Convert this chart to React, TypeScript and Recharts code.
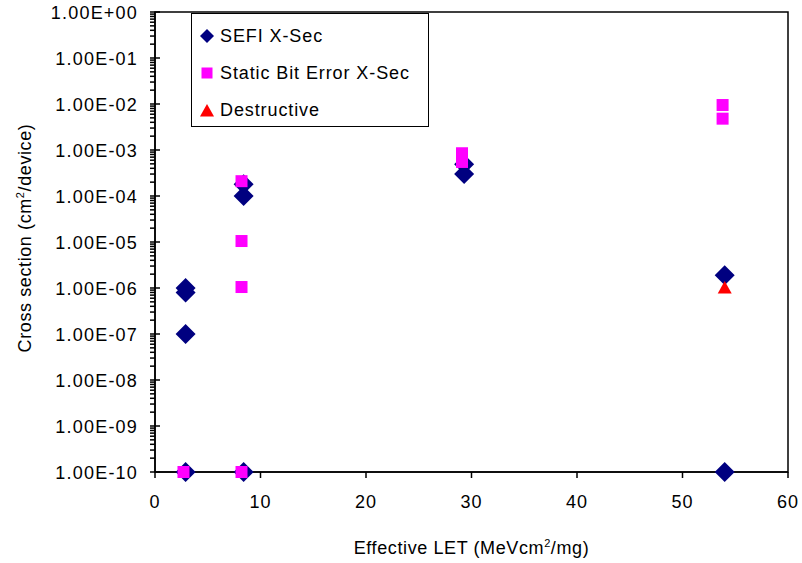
import React from "react";
import {
  ScatterChart,
  Scatter,
  XAxis,
  YAxis,
  ReferenceArea,
} from "recharts";

// values (x = effective LET, y = cross section)
const sefiX = [2.9, 2.9, 2.9, 2.9, 8.4, 8.4, 8.4, 29.3, 29.3, 54.0, 54.0];
const sefiY = [1e-6, 8e-7, 1e-7, 1e-10, 1.8e-4, 1e-4, 1e-10, 4.9e-4, 3e-4, 1.9e-6, 1e-10];

const staticX = [2.7, 8.2, 8.2, 8.2, 8.2, 29.1, 29.1, 53.8, 53.8];
const staticY = [1e-10, 2.1e-4, 1.05e-5, 1.05e-6, 1e-10, 8.5e-4, 5.5e-4, 9.5e-3, 4.8e-3];

const destructiveX = [54.0];
const destructiveY = [1e-6];

const xTicks = [0, 10, 20, 30, 40, 50, 60];
const decades = [-10, -9, -8, -7, -6, -5, -4, -3, -2, -1, 0];
const mantissas = [1, 2, 3, 4, 5, 6, 7, 8, 9];

const seriesNames = ["SEFI X-Sec", "Static Bit Error X-Sec", "Destructive"];
const NAVY = "#000080";
const MAGENTA = "#FF00FF";
const RED = "#FF0000";
const FONT = "'Liberation Sans', Arial, sans-serif";

const toPoints = (xs: number[], ys: number[]) => xs.map((x, i) => ({ x, y: ys[i] }));
const sefiData = toPoints(sefiX, sefiY);
const staticData = toPoints(staticX, staticY);
const destructiveData = toPoints(destructiveX, destructiveY);

// major + minor ticks for the log axis
const yTicks: number[] = [];
decades.forEach((d) => {
  mantissas.forEach((m) => {
    if (d === 0 && m > 1) return;
    yTicks.push(Number((m * Math.pow(10, d)).toPrecision(3)));
  });
});

const fmtSci = (v: number) => {
  const e = Math.round(Math.log10(v));
  return `1.00E${e < 0 ? "-" : "+"}${String(Math.abs(e)).padStart(2, "0")}`;
};

const YTick = (props: any) => {
  const { x, y, payload } = props;
  const v = payload.value as number;
  const e = Math.log10(v);
  const major = Math.abs(e - Math.round(e)) < 1e-6;
  if (!major) {
    return <line x1={x - 5} x2={x} y1={y} y2={y} stroke="#000" strokeWidth={1.5} />;
  }
  return (
    <g>
      <line x1={x - 5} x2={x + 5} y1={y} y2={y} stroke="#000" strokeWidth={1.5} />
      <text
        x={x - 17}
        y={y}
        dy={6.5}
        textAnchor="end"
        fontFamily={FONT}
        fontSize={18}
        letterSpacing={1.2}
        fill="#000"
      >
        {fmtSci(v)}
      </text>
    </g>
  );
};

const diamond = (cx: number, cy: number, r: number, color: string) => (
  <path d={`M${cx},${cy - r}L${cx + r},${cy}L${cx},${cy + r}L${cx - r},${cy}Z`} fill={color} />
);
const square = (cx: number, cy: number, h: number, color: string) => (
  <rect x={cx - h} y={cy - h} width={h * 2} height={h * 2} fill={color} />
);
const triangle = (cx: number, cy: number, h: number, color: string) => (
  <path d={`M${cx},${cy - h}L${cx + h},${cy + h * 0.8}L${cx - h},${cy + h * 0.8}Z`} fill={color} />
);

const DiamondShape = (p: any) => diamond(p.cx, p.cy, 10, NAVY);
const SquareShape = (p: any) => square(p.cx, p.cy, 6, MAGENTA);
const TriangleShape = (p: any) => triangle(p.cx, p.cy, 7, RED);

const XLabel = (props: any) => {
  const vb = props.viewBox || { x: 155, y: 472, width: 633, height: 91 };
  return (
    <text
      x={vb.x + vb.width / 2}
      y={vb.y + 82}
      textAnchor="middle"
      fontFamily={FONT}
      fontSize={18}
      letterSpacing={0.6}
      fill="#000"
    >
      Effective LET (MeVcm
      <tspan dy={-7} fontSize={11}>2</tspan>
      <tspan dy={7}>/mg)</tspan>
    </text>
  );
};

const YLabel = (props: any) => {
  const vb = props.viewBox || { x: 0, y: 12, width: 155, height: 460 };
  const cx = vb.x + 31;
  const cy = vb.y + vb.height / 2 - 4;
  return (
    <text
      x={cx}
      y={cy}
      transform={`rotate(-90, ${cx}, ${cy})`}
      textAnchor="middle"
      fontFamily={FONT}
      fontSize={18}
      letterSpacing={0.6}
      fill="#000"
    >
      Cross section (cm
      <tspan dy={-7} fontSize={11}>2</tspan>
      <tspan dy={7}>/device)</tspan>
    </text>
  );
};

const legendIcons = [
  <svg width={16} height={16} key="d">{diamond(8, 8, 7, NAVY)}</svg>,
  <svg width={16} height={16} key="s">{square(8, 8, 5.5, MAGENTA)}</svg>,
  <svg width={16} height={16} key="t">{triangle(8, 9, 7, RED)}</svg>,
];

function ChartLegend() {
  return (
    <div
      style={{
        position: "absolute",
        left: 191,
        top: 13,
        width: 236,
        height: 112,
        border: "1.5px solid #000",
        background: "#fff",
        fontFamily: FONT,
        fontSize: 18,
        letterSpacing: 0.9,
      }}
    >
      {seriesNames.map((name, i) => (
        <div
          key={name}
          style={{
            position: "absolute",
            left: 7,
            top: 10 + i * 37,
            height: 24,
            display: "flex",
            alignItems: "center",
            whiteSpace: "nowrap",
          }}
        >
          {legendIcons[i]}
          <span style={{ marginLeft: 5 }}>{name}</span>
        </div>
      ))}
    </div>
  );
}

export default function App() {
  return (
    <div style={{ position: "absolute", left: 0, top: 0, width: 802, height: 563, background: "#fff" }}>
      <ScatterChart width={802} height={563} margin={{ top: 12, right: 14, bottom: 0, left: 0 }}>
        <XAxis
          type="number"
          dataKey="x"
          domain={[0, 60]}
          ticks={xTicks}
          interval={0}
          height={91}
          axisLine={{ stroke: "#000", strokeWidth: 1.5 }}
          tickLine={{ stroke: "#000", strokeWidth: 1.5 }}
          tickSize={6}
          tickMargin={17}
          tick={{ fill: "#000", fontFamily: FONT, fontSize: 18, letterSpacing: 1 }}
          label={<XLabel />}
        />
        <YAxis
          type="number"
          dataKey="y"
          scale="log"
          domain={[1e-10, 1]}
          ticks={yTicks}
          interval={0}
          minTickGap={0}
          width={155}
          axisLine={{ stroke: "#000", strokeWidth: 1.5 }}
          tickLine={false}
          tickSize={0}
          tickMargin={0}
          tick={<YTick />}
          label={<YLabel />}
        />
        <ReferenceArea
          x1={0}
          x2={60}
          y1={1e-10}
          y2={1}
          fill="none"
          stroke="#000"
          strokeWidth={1.5}
          ifOverflow="visible"
        />
        <Scatter name={seriesNames[0]} data={sefiData} shape={DiamondShape} isAnimationActive={false} />
        <Scatter name={seriesNames[1]} data={staticData} shape={SquareShape} isAnimationActive={false} />
        <Scatter name={seriesNames[2]} data={destructiveData} shape={TriangleShape} isAnimationActive={false} />
      </ScatterChart>
      <ChartLegend />
    </div>
  );
}
